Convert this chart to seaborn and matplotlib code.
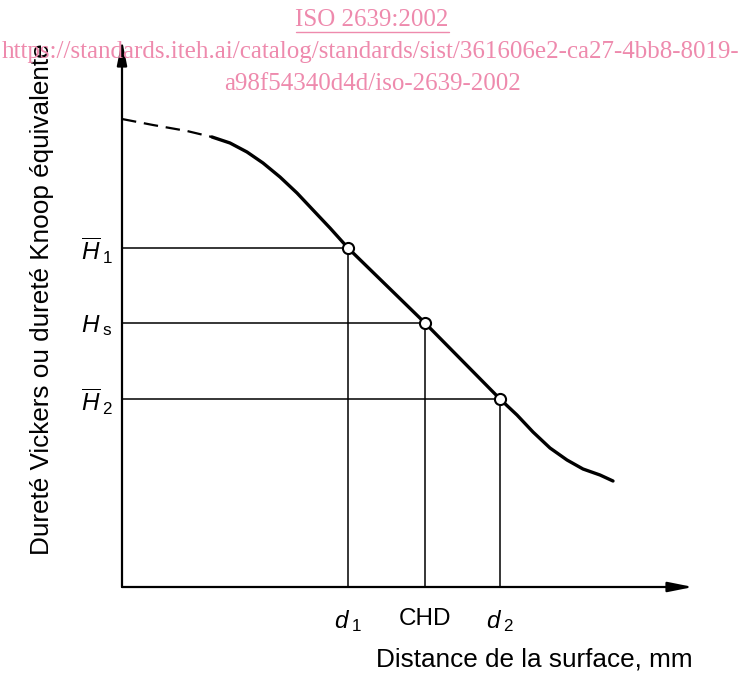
import matplotlib
matplotlib.use("Agg")
import matplotlib.pyplot as plt
import pandas as pd
import seaborn as sns

# curve (x: distance, y: hardness, arbitrary units)
dash_x = [0.00, 0.31, 0.65, 0.90]
dash_y = [4.68, 4.62, 4.56, 4.50]
curve_x = [0.90, 1.08, 1.25, 1.41, 1.58, 1.75, 1.91, 2.08, 2.26, 3.03, 3.78,
           3.95, 4.11, 4.28, 4.45, 4.61, 4.78, 4.91]
curve_y = [4.50, 4.44, 4.35, 4.24, 4.10, 3.94, 3.77, 3.59, 3.39, 2.64, 1.88,
           1.72, 1.55, 1.39, 1.27, 1.18, 1.12, 1.06]

# marked points
point_x = [2.26, 3.03, 3.78]
point_y = [3.39, 2.64, 1.88]
x_labels = [r"$d\,_1$", "CHD", r"$d\,_2$"]
y_labels = [r"$\overline{H}\,_1$", r"$H\,_{\mathrm{s}}$", r"$\overline{H}\,_2$"]

sns.set_theme(style="white")
plt.rcParams["font.family"] = ["Liberation Sans", "DejaVu Sans"]
plt.rcParams["mathtext.fontset"] = "custom"
plt.rcParams["mathtext.rm"] = "Liberation Sans"
plt.rcParams["mathtext.it"] = "Liberation Sans:italic"
plt.rcParams["text.color"] = "black"
plt.rcParams["axes.labelcolor"] = "black"
plt.rcParams["xtick.color"] = "black"
plt.rcParams["ytick.color"] = "black"

fig = plt.figure(figsize=(7.38, 6.74), dpi=100)
ax = fig.add_axes([122 / 738, 87 / 674, 571 / 738, 547 / 674])
ax.set_xlim(0, 5.71)
ax.set_ylim(0, 5.47)
for s in ax.spines.values():
    s.set_visible(False)

# axes with arrows
arrow = dict(arrowstyle="-|>,head_length=1.0,head_width=0.2", lw=1.6,
             color="black", mutation_scale=15, shrinkA=0, shrinkB=0)
ax.annotate("", xy=(0, 1), xytext=(0, 0), xycoords="axes fraction", arrowprops=arrow)
ax.annotate("", xy=(1, 0), xytext=(0, 0), xycoords="axes fraction", arrowprops=arrow)

# guide lines
ax.hlines(point_y, 0, point_x, color="black", lw=1.1)
ax.vlines(point_x, 0, point_y, color="black", lw=1.1)

# curve
dash_df = pd.DataFrame({"x": dash_x, "y": dash_y})
curve_df = pd.DataFrame({"x": curve_x, "y": curve_y})
sns.lineplot(data=dash_df, x="x", y="y", ax=ax, color="black", lw=1.6,
             sort=False, linestyle=(0, (6.5, 3.5)))
sns.lineplot(data=curve_df, x="x", y="y", ax=ax, color="black", lw=2.4, sort=False)
ax.plot(point_x, point_y, "o", ms=8, mfc="white", mec="black", mew=1.5, zorder=5)

ax.set_xticks(point_x)
ax.set_xticklabels(x_labels, fontsize=17.5)
ax.set_yticks(point_y)
ax.set_yticklabels(y_labels, fontsize=17.5)
ax.tick_params(axis="x", length=0, pad=15)
ax.tick_params(axis="y", length=0, pad=7)
ax.set_xlabel("Distance de la surface, mm", fontsize=18.8, loc="right", labelpad=10)
ax.set_ylabel("Dureté Vickers ou dureté Knoop équivalente", fontsize=18.8, loc="bottom")
ax.yaxis.label.set_va("center")
ax.yaxis.set_label_coords(-80 / 571, 32 / 547)

# watermark text
pink = "#ee8aad"
fig.text(0.503, 1 - 20 / 674, "ISO 2639:2002", color=pink, ha="center", va="center",
         fontsize=18, family="Liberation Serif")
fig.lines.append(plt.Line2D([296 / 738, 449 / 738], [1 - 32 / 674, 1 - 32 / 674],
                            color=pink, lw=1, transform=fig.transFigure))
fig.text(0.502, 1 - 52 / 674,
         "https://standards.iteh.ai/catalog/standards/sist/361606e2-ca27-4bb8-8019-",
         color=pink, ha="center", va="center", fontsize=18, family="Liberation Serif")
fig.text(0.505, 1 - 84 / 674, "a98f54340d4d/iso-2639-2002", color=pink,
         ha="center", va="center", fontsize=18, family="Liberation Serif")

fig.savefig("out.png", dpi=100)
